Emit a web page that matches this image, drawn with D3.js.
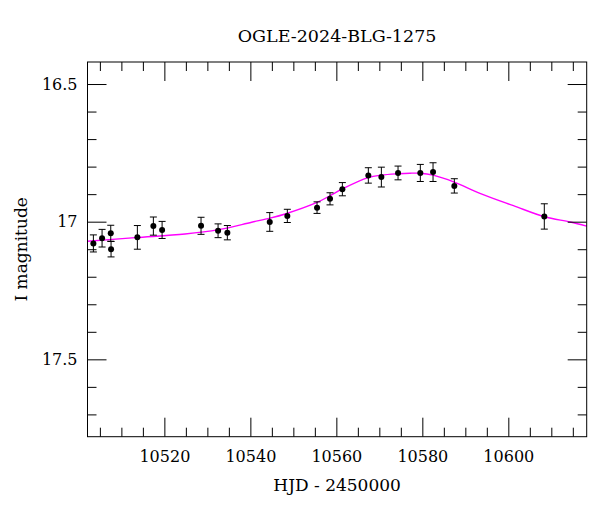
<!DOCTYPE html>
<html>
<head>
<meta charset="utf-8">
<script src="https://cdn.jsdelivr.net/npm/d3@7"></script>
<style>
  html, body { margin: 0; padding: 0; background: #fff; }
  svg { display: block; }
  text { font-family: "DejaVu Serif", serif; fill: #000; }
</style>
</head>
<body>
<svg id="chart" width="600" height="512"></svg>
<script>
// ---- data ----
const title = "OGLE-2024-BLG-1275";
const xLabel = "HJD - 2450000";
const yLabel = "I magnitude";

const obsHJD = [10503.49, 10505.51, 10507.53, 10507.60, 10513.72, 10517.44, 10519.47,
  10528.53, 10532.49, 10534.65, 10544.51, 10548.60, 10555.51, 10558.53, 10561.40,
  10567.44, 10570.47, 10574.35, 10579.53, 10582.49, 10587.44, 10608.37];
const obsMag = [17.079, 17.060, 17.042, 17.100, 17.057, 17.016, 17.030,
  17.015, 17.033, 17.040, 17.001, 16.979, 16.949, 16.917, 16.882,
  16.832, 16.838, 16.823, 16.823, 16.820, 16.870, 16.981];
const obsErr = [0.031, 0.032, 0.029, 0.028, 0.043, 0.033, 0.031,
  0.031, 0.025, 0.026, 0.034, 0.024, 0.021, 0.022, 0.024,
  0.028, 0.036, 0.025, 0.031, 0.034, 0.026, 0.046];

const modelHJD = [10502.1, 10513.2, 10524.8, 10532.6, 10540.3, 10544.6, 10548.1,
  10555.5, 10558.5, 10561.4, 10567.4, 10570.5, 10574.4, 10577.1, 10579.5,
  10582.5, 10587.4, 10593.4, 10601.2, 10608.4, 10614.4, 10618.2];
const modelMag = [17.071, 17.058, 17.045, 17.029, 17.002, 16.987, 16.972,
  16.930, 16.906, 16.881, 16.840, 16.831, 16.826, 16.824, 16.824,
  16.831, 16.856, 16.897, 16.942, 16.982, 17.001, 17.016];

const xMajorTicks = [10520, 10540, 10560, 10580, 10600];
const yMajorTicks = [16.5, 17, 17.5];
const yTickLabels = ["16.5", "17", "17.5"];

// ---- layout ----
const svg = d3.select("#chart");
const L = 87.5, R = 586.7, T = 62, B = 436.7;
const x = d3.scaleLinear().domain([10502.12, 10618.23]).range([L, R]);
const y = d3.scaleLinear().domain([16.42, 17.781]).range([T, B]);

const g = svg.append("g");

// model curve
const line = d3.line().x(d => x(d[0])).y(d => y(d[1])).curve(d3.curveCatmullRom.alpha(0.5));
g.append("path")
  .datum(modelHJD.map((h, i) => [h, modelMag[i]]))
  .attr("d", line)
  .attr("fill", "none")
  .attr("stroke", "#ff00ff")
  .attr("stroke-width", 1.4);

// axes with ticks on all sides, inward
const majorLen = 19, minorLen = 9;
const xMinor = d3.range(10505, 10618, 5).filter(v => !xMajorTicks.includes(v));
const yMinor = d3.range(16.5, 17.79, 0.1).map(v => +v.toFixed(1)).filter(v => !yMajorTicks.includes(v));

function addAxis(axisGen, transform) {
  const a = g.append("g").attr("transform", transform).call(axisGen);
  a.select(".domain").remove();
  a.selectAll("line").attr("stroke", "#000").attr("stroke-width", 1);
  return a;
}
// bottom
const xb = addAxis(d3.axisBottom(x).tickValues(xMajorTicks).tickSize(-majorLen).tickFormat(d3.format("d")).tickPadding(12), `translate(0,${B})`);
xb.selectAll("text").attr("font-size", 16).attr("font-family", "DejaVu Serif").attr("dy", "0.85em");
addAxis(d3.axisBottom(x).tickValues(xMinor).tickSize(-minorLen).tickFormat(""), `translate(0,${B})`);
// top
addAxis(d3.axisTop(x).tickValues(xMajorTicks).tickSize(-majorLen).tickFormat(""), `translate(0,${T})`);
addAxis(d3.axisTop(x).tickValues(xMinor).tickSize(-minorLen).tickFormat(""), `translate(0,${T})`);
// left
const yl = addAxis(d3.axisLeft(y).tickValues(yMajorTicks).tickSize(-majorLen)
  .tickFormat((d, i) => yTickLabels[i]).tickPadding(10), `translate(${L},0)`);
yl.selectAll("text").attr("font-size", 16).attr("font-family", "DejaVu Serif");
addAxis(d3.axisLeft(y).tickValues(yMinor).tickSize(-minorLen).tickFormat(""), `translate(${L},0)`);
// right
addAxis(d3.axisRight(y).tickValues(yMajorTicks).tickSize(-majorLen).tickFormat(""), `translate(${R},0)`);
addAxis(d3.axisRight(y).tickValues(yMinor).tickSize(-minorLen).tickFormat(""), `translate(${R},0)`);

// frame
g.append("rect").attr("x", L).attr("y", T).attr("width", R - L).attr("height", B - T)
  .attr("fill", "none").attr("stroke", "#000").attr("stroke-width", 1);

// error bars & points
const cap = 3.5;
const pts = obsHJD.map((h, i) => ({ h, m: obsMag[i], e: obsErr[i] }));
const eb = g.append("g").attr("stroke", "#000").attr("stroke-width", 1);
pts.forEach(p => {
  const cx = x(p.h), y1 = y(p.m - p.e), y2 = y(p.m + p.e);
  eb.append("line").attr("x1", cx).attr("x2", cx).attr("y1", y1).attr("y2", y2);
  eb.append("line").attr("x1", cx - cap).attr("x2", cx + cap).attr("y1", y1).attr("y2", y1);
  eb.append("line").attr("x1", cx - cap).attr("x2", cx + cap).attr("y1", y2).attr("y2", y2);
});
g.append("g").selectAll("circle").data(pts).join("circle")
  .attr("cx", d => x(d.h)).attr("cy", d => y(d.m)).attr("r", 3).attr("fill", "#000");

// labels
svg.append("text").attr("x", (L + R) / 2).attr("y", 42).attr("text-anchor", "middle")
  .attr("font-size", 17.5).text(title);
svg.append("text").attr("x", (L + R) / 2).attr("y", 491).attr("text-anchor", "middle")
  .attr("font-size", 17).text(xLabel);
svg.append("text").attr("transform", `translate(26.5,${(T + B) / 2}) rotate(-90)`)
  .attr("text-anchor", "middle").attr("font-size", 17).text(yLabel);
</script>
</body>
</html>
